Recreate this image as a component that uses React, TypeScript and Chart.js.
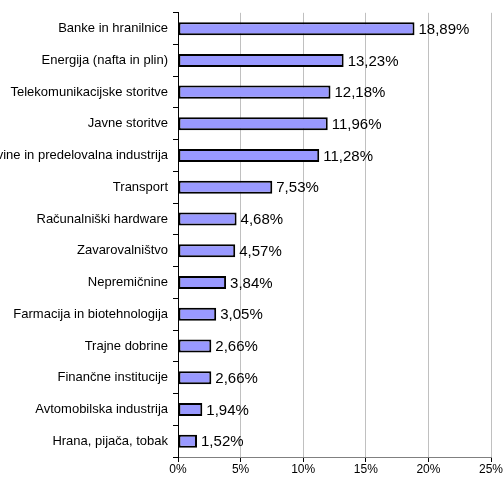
import React, { useEffect, useRef } from "react";
import { Chart, registerables } from "chart.js";

Chart.register(...registerables);

const categories = [
  "Banke in hranilnice",
  "Energija (nafta in plin)",
  "Telekomunikacijske storitve",
  "Javne storitve",
  "Surovine in predelovalna industrija",
  "Transport",
  "Računalniški hardware",
  "Zavarovalništvo",
  "Nepremičnine",
  "Farmacija in biotehnologija",
  "Trajne dobrine",
  "Finančne institucije",
  "Avtomobilska industrija",
  "Hrana, pijača, tobak",
];

const values = [18.89, 13.23, 12.18, 11.96, 11.28, 7.53, 4.68, 4.57, 3.84, 3.05, 2.66, 2.66, 1.94, 1.52];

const xTicks = [0, 5, 10, 15, 20, 25];

const fmt = (v: number) => v.toFixed(2).replace(".", ",") + "%";

const valueLabels = {
  id: "valueLabels",
  afterDatasetsDraw(chart: any) {
    const ctx = chart.ctx;
    const meta = chart.getDatasetMeta(0);
    ctx.save();
    ctx.font = "15px 'Liberation Sans', Arial, sans-serif";
    ctx.fillStyle = "#000";
    ctx.textAlign = "left";
    ctx.textBaseline = "middle";
    meta.data.forEach((bar: any, i: number) => {
      ctx.fillText(fmt(values[i]), bar.x + 4, bar.y + 1);
    });
    ctx.restore();
  },
};

export default function App() {
  const ref = useRef<HTMLCanvasElement>(null);
  useEffect(() => {
    if (!ref.current) return;
    const chart = new Chart(ref.current, {
      type: "bar",
      data: {
        labels: categories,
        datasets: [
          {
            data: values,
            backgroundColor: "#9999ff",
            borderColor: "#000000",
            borderWidth: 2,
            borderSkipped: false,
            barPercentage: 0.41,
            categoryPercentage: 1,
          },
        ],
      },
      options: {
        indexAxis: "y",
        responsive: false,
        animation: false,
        layout: { padding: { top: 10, right: 13, left: 0, bottom: 0 } },
        plugins: { legend: { display: false }, tooltip: { enabled: false } },
        scales: {
          x: {
            min: 0,
            max: 25,
            afterBuildTicks: (scale: any) => {
              scale.ticks = xTicks.map((v) => ({ value: v }));
            },
            afterFit: (scale: any) => {
              scale.height = 26;
            },
            ticks: {
              callback: (v: any) => v + "%",
              color: "#000",
              padding: 0,
              maxRotation: 0,
              font: { family: "'Liberation Sans', Arial, sans-serif", size: 12 },
            },
            grid: {
              color: "#c0c0c0",
              tickColor: "#000",
              tickLength: 5,
              lineWidth: 1,
            },
            border: { color: "#808080", width: 1 },
          },
          y: {
            afterFit: (scale: any) => {
              scale.width = 178;
            },
            ticks: {
              color: "#000",
              padding: 5,
              autoSkip: false,
              font: { family: "'Liberation Sans', Arial, sans-serif", size: 13 },
            },
            grid: {
              offset: true,
              drawOnChartArea: false,
              tickColor: "#000",
              tickLength: 5,
            },
            border: { color: "#000", width: 1 },
          },
        },
      },
      plugins: [valueLabels],
    });
    return () => chart.destroy();
  }, []);
  return (
    <canvas
      ref={ref}
      width={504}
      height={483}
      style={{ position: "absolute", left: 0, top: 0, width: 504, height: 483 }}
    />
  );
}
